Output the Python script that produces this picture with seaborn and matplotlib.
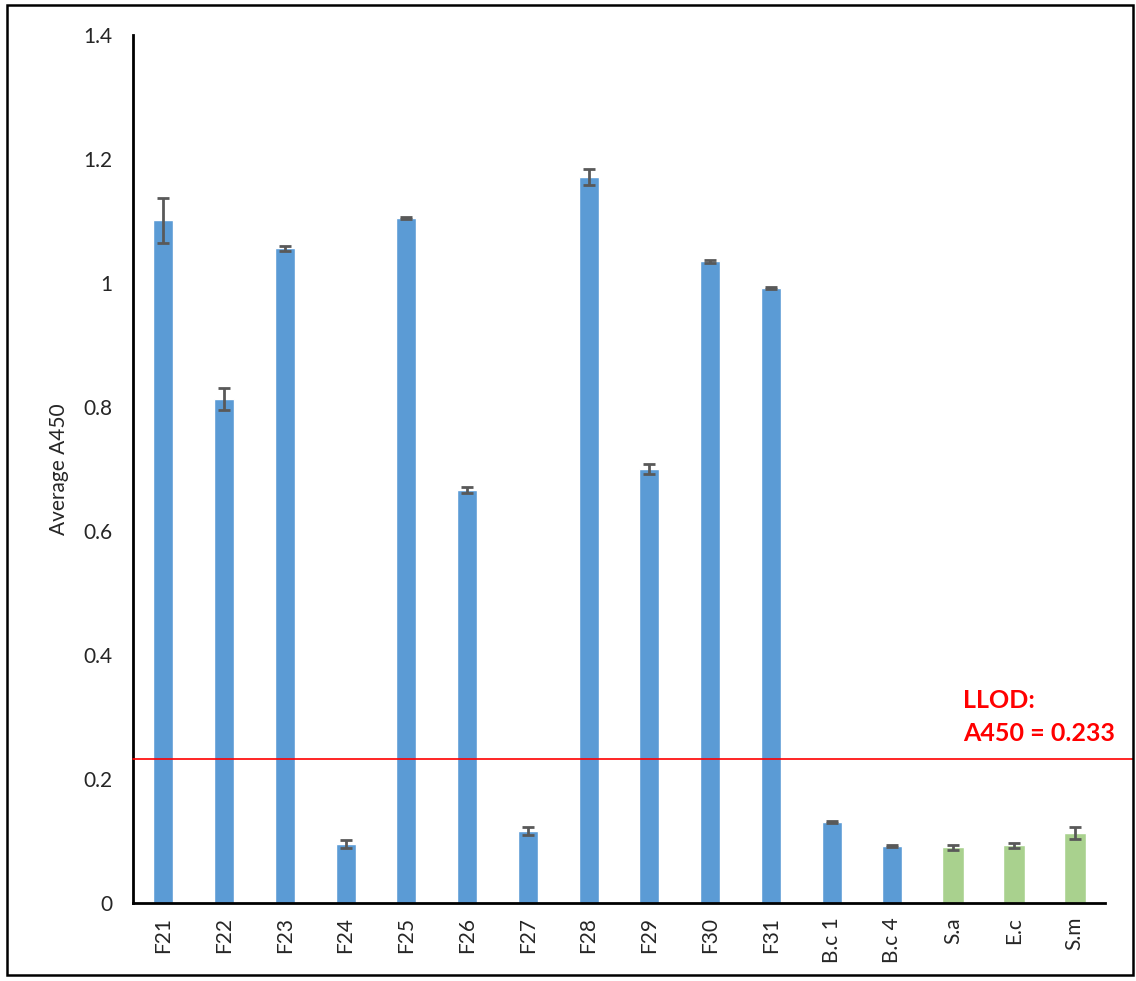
import matplotlib
matplotlib.use("Agg")
import matplotlib.pyplot as plt
import seaborn as sns
import pandas as pd
from matplotlib.patches import Rectangle

# Sample names, mean absorbance at 450 nm and standard deviations
samples = ["F21", "F22", "F23", "F24", "F25", "F26", "F27", "F28", "F29", "F30",
           "F31", "B.c 1", "B.c 4", "S.a", "E.c", "S.m"]
a450 = [1.101, 0.813, 1.056, 0.095, 1.105, 0.666, 0.116, 1.171, 0.700, 1.035,
        0.992, 0.131, 0.092, 0.090, 0.093, 0.113]
a450_sd = [0.036, 0.018, 0.004, 0.006, 0.002, 0.005, 0.006, 0.013, 0.008, 0.002,
           0.002, 0.002, 0.002, 0.004, 0.004, 0.009]
group = ["test"] * 13 + ["control"] * 3
llod = 0.233
y_ticks = [0, 0.2, 0.4, 0.6, 0.8, 1.0, 1.2, 1.4]
y_tick_labels = ["0", "0.2", "0.4", "0.6", "0.8", "1", "1.2", "1.4"]

df = pd.DataFrame({"sample": samples, "a450": a450, "sd": a450_sd, "group": group})

sns.set_theme(style="white")
plt.rcParams["font.family"] = ["Lato", "DejaVu Sans"]

fig = plt.figure(figsize=(11.36, 9.81), dpi=100)
ax = fig.add_axes([0.117, 0.0795, 0.8557, 0.8848])

palette = {"test": "#5B9BD5", "control": "#A9D18E"}
sns.barplot(data=df, x="sample", y="a450", hue="group", palette=palette,
            dodge=False, width=0.33, legend=False, ax=ax, errorbar=None,
            saturation=1)

# control bars are drawn slightly wider
control_rgb = matplotlib.colors.to_rgb(palette["control"])
for patch in ax.patches:
    if patch.get_facecolor()[:3] == control_rgb and patch.get_height() > 0:
        cx = patch.get_x() + patch.get_width() / 2
        patch.set_width(0.36)
        patch.set_x(cx - 0.18)

ax.errorbar(range(len(samples)), a450, yerr=a450_sd, fmt="none",
            ecolor="#595959", elinewidth=2, capsize=4.5, capthick=2, zorder=3)

ax.axhline(llod, xmin=0, xmax=1.029, color="#FF0000", lw=1.2, clip_on=False, zorder=4)
ax.text(13.17, 0.327, "LLOD:", color="#FF0000", fontsize=18, fontweight="bold",
        ha="left", va="center")
ax.text(13.17, 0.274, "A450 = 0.233", color="#FF0000", fontsize=18,
        fontweight="bold", ha="left", va="center")

ax.set_xlim(-0.5, len(samples) - 0.5)
ax.set_ylim(0, 1.4)
ax.set_yticks(y_ticks)
ax.set_yticklabels(y_tick_labels)
ax.tick_params(axis="y", labelsize=15, labelcolor="#262626", length=0, pad=15)
ax.tick_params(axis="x", labelsize=15, labelcolor="#262626", length=0, pad=10,
               rotation=90)
ax.set_xlabel("")
ax.set_ylabel("Average A450", fontsize=15, color="#262626", labelpad=10)

for side in ["top", "right"]:
    ax.spines[side].set_visible(False)
for side in ["left", "bottom"]:
    ax.spines[side].set_color("black")
    ax.spines[side].set_linewidth(2)

# outer frame
fig.patches.append(Rectangle((0.006, 0.006), 0.991, 0.989, transform=fig.transFigure,
                             fill=False, edgecolor="black", linewidth=1.8))

fig.savefig("out.png", dpi=100)
